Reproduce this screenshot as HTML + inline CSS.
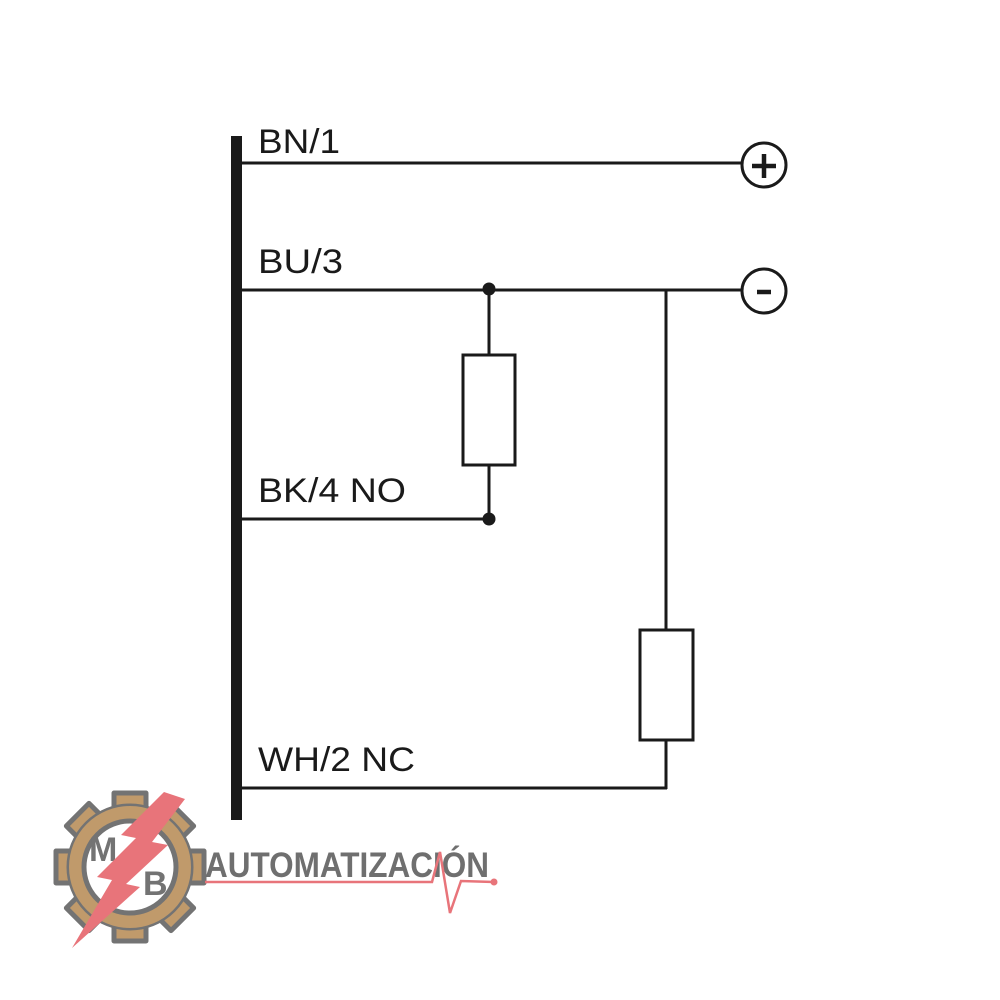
<!DOCTYPE html>
<html><head><meta charset="utf-8"><style>html,body{margin:0;padding:0;background:#fff}svg{display:block}</style></head>
<body>
<svg width="1000" height="1000" viewBox="0 0 1000 1000" xmlns="http://www.w3.org/2000/svg">
<rect width="1000" height="1000" fill="#fff"/>
<g stroke="#1a1a1a" stroke-width="3" fill="none">
<line x1="242" y1="163" x2="743" y2="163"/>
<line x1="242" y1="290" x2="743" y2="290"/>
<line x1="242" y1="519" x2="489" y2="519"/>
<line x1="242" y1="788" x2="667" y2="788"/>
<line x1="489" y1="290" x2="489" y2="355"/>
<line x1="489" y1="466" x2="489" y2="519"/>
<rect x="463" y="355" width="52" height="110"/>
<line x1="666" y1="290" x2="666" y2="630"/>
<line x1="666" y1="740" x2="666" y2="789"/>
<rect x="640" y="630" width="53" height="110"/>
<circle cx="764" cy="165" r="22"/>
<circle cx="764" cy="291" r="22"/>
</g>
<rect x="231" y="136" width="11" height="684" fill="#1a1a1a"/>
<circle cx="489" cy="289" r="6.5" fill="#1a1a1a"/>
<circle cx="489" cy="519" r="6.5" fill="#1a1a1a"/>
<g stroke="#1a1a1a" stroke-width="4.5">
<line x1="752" y1="166" x2="776" y2="166"/><line x1="764" y1="154" x2="764" y2="178"/>
<line x1="757" y1="292" x2="771" y2="292"/>
</g>
<g font-family="Liberation Sans, sans-serif" font-size="34" fill="#1a1a1a">
<text x="258" y="153" textLength="82" lengthAdjust="spacingAndGlyphs">BN/1</text>
<text x="258" y="273" textLength="85" lengthAdjust="spacingAndGlyphs">BU/3</text>
<text x="258" y="502" textLength="148" lengthAdjust="spacingAndGlyphs">BK/4 NO</text>
<text x="258" y="771" textLength="157" lengthAdjust="spacingAndGlyphs">WH/2 NC</text>
</g>
<!-- logo -->
<g transform="translate(130,867)" fill="#c09a6b" stroke="#737373" stroke-width="5" stroke-linejoin="round">
<g>
<rect x="-16" y="-74" width="32" height="26" transform="rotate(0)"/>
<rect x="-16" y="-74" width="32" height="26" transform="rotate(45)"/>
<rect x="-16" y="-74" width="32" height="26" transform="rotate(90)"/>
<rect x="-16" y="-74" width="32" height="26" transform="rotate(135)"/>
<rect x="-16" y="-74" width="32" height="26" transform="rotate(180)"/>
<rect x="-16" y="-74" width="32" height="26" transform="rotate(225)"/>
<rect x="-16" y="-74" width="32" height="26" transform="rotate(270)"/>
<rect x="-16" y="-74" width="32" height="26" transform="rotate(315)"/>
</g>
<circle r="61"/>
<circle r="61" stroke="none"/>
<circle r="46" fill="#fff"/>
</g>
<g font-family="Liberation Sans, sans-serif" font-weight="bold" fill="#737373" font-size="34">
<text x="89" y="861">M</text>
<text x="143" y="895">B</text>
</g>
<polygon points="164,792 185,799 152,842 168,845 126,884 140,887 72,948 112,880 97,877 136,838 121,835" fill="#e8747a"/>
<text x="205" y="877" font-family="Liberation Sans, sans-serif" font-weight="bold" font-size="35" fill="#6f6f6f" textLength="284" lengthAdjust="spacingAndGlyphs">AUTOMATIZACIÓN</text>
<polyline points="205,882 432,882 440,852 450,913 461,881 494,882" fill="none" stroke="#e8747a" stroke-width="2.5"/>
<circle cx="494" cy="882" r="3.5" fill="#e8747a"/>
</svg>
</body></html>
